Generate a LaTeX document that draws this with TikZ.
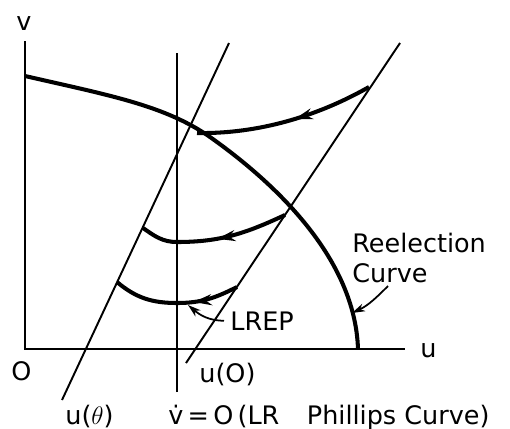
\documentclass[tikz,border=0pt]{standalone}
\usepackage{fontspec}
\setmainfont{DejaVu Sans}
\usetikzlibrary{arrows.meta,decorations.markings}

\begin{document}
\begin{tikzpicture}[
    font=\fontsize{14.5}{17}\selectfont,
    lbl/.style={inner sep=0pt},
    thinline/.style={line width=1.1pt},
    thickline/.style={line width=2.3pt},
    flow/.style={thickline, postaction={decorate}, decoration={markings,
        mark=at position #1 with {\arrow{Stealth[length=3.6mm,width=2.2mm,inset=1.2mm]}}}},
    pointer/.style={line width=1pt, -{Stealth[length=2.6mm,width=1.6mm,inset=0.8mm]}}
]
    \useasboundingbox (0,0) rectangle (10.2,8.56);

    % Axes
    \coordinate (origin) at (0.5,1.58);
    \draw[thinline] (0.5,7.74) -- (origin) -- (8.1,1.58);
    \node[lbl, anchor=base] (vlab) at (0.48,7.96) {v};
    \node[lbl, anchor=base west] (ulab) at (8.4,1.42) {u};
    \node[lbl, anchor=base] (olab) at (0.43,0.96) {O};

    % Straight lines: vdot = O, u(theta), u(O)
    \draw[thinline] (3.54,0.72) -- (3.54,7.5);
    \draw[thinline] (1.24,0.56) -- (4.58,7.7);
    \draw[thinline] (3.72,1.3) -- (8.0,7.7);

    % Reelection curve
    \draw[thickline] (0.5,7.04) .. controls (2.2,6.65) and (3.3,6.45) .. (4.2,5.82)
        .. controls (5.5,4.9) and (7.1,3.4) .. (7.16,1.58);

    % Paths towards the LREP
    \draw[flow=0.45] (7.38,6.82) .. controls (6.2,6.15) and (5.0,5.88) .. (3.94,5.9);
    \draw[flow=0.48] (5.7,4.26) to[out=205,in=0] (3.54,3.72) to[out=180,in=-35] (2.86,4.0);
    \draw[flow=0.36] (4.74,2.82) to[out=207,in=0] (3.54,2.5) to[out=180,in=-40] (2.34,2.92);

    % Labels with pointers
    \node[lbl, anchor=base west] (lrep) at (4.6,1.96) {LREP};
    \coordinate (lreptip) at (3.76,2.46);
    \draw[pointer] ([xshift=-1.2mm]lrep.west) to[out=180,in=-40] (lreptip);

    \node[lbl, anchor=west, align=left] (reel) at (7.04,3.4) {Reelection\\Curve};
    \coordinate (reeltail) at (7.76,2.84);
    \coordinate (reeltip) at (7.04,2.3);
    \draw[pointer] (reeltail) to[out=225,in=25] (reeltip);

    % Bottom labels
    \node[lbl, anchor=base west] (uzero) at (3.98,0.92) {u(O)};
    \node[lbl, anchor=base west] (utheta) at (1.3,0.08) {u($\theta$)};
    \node[lbl, anchor=base west] (phillips) at (3.36,0.08) {\.{v}\,=\,O\,(LR\hspace{0.55cm}Phillips Curve)};
\end{tikzpicture}
\end{document}
